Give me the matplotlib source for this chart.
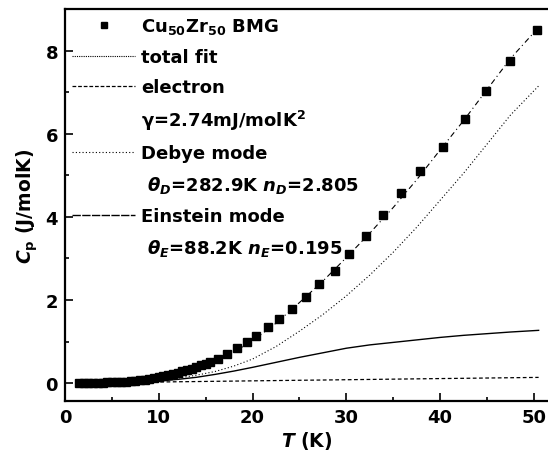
import matplotlib
matplotlib.use("Agg")
import matplotlib.pyplot as plt
from matplotlib.lines import Line2D
from matplotlib.ticker import MultipleLocator

plt.rcParams['font.family'] = ['DejaVu Sans']
plt.rcParams['font.weight'] = 'bold'
plt.rcParams['axes.labelweight'] = 'bold'
plt.rcParams['mathtext.fontset'] = 'custom'
plt.rcParams['mathtext.rm'] = 'DejaVu Sans:bold'
plt.rcParams['mathtext.it'] = 'DejaVu Sans:bold:italic'
plt.rcParams['mathtext.bf'] = 'DejaVu Sans:bold'
plt.rcParams['mathtext.default'] = 'rm'

# measured points, Cu50Zr50 BMG
T_data = [1.5, 2, 2.5, 3, 3.5, 4, 4.5, 5, 5.5, 6, 6.5, 7, 7.5, 8, 8.5, 9, 9.5,
          10, 10.5, 11, 11.5, 12, 12.5, 13, 13.5, 14, 14.5, 15, 15.5, 16.3,
          17.3, 18.3, 19.4, 20.4, 21.6, 22.8, 24.2, 25.7, 27.1, 28.8, 30.3,
          32.1, 33.9, 35.8, 37.9, 40.3, 42.6, 44.9, 47.5, 50.3]
Cp_data = [0.005, 0.006, 0.008, 0.010, 0.012, 0.015, 0.018, 0.022, 0.027,
           0.032, 0.038, 0.046, 0.055, 0.066, 0.080, 0.095, 0.115, 0.140,
           0.165, 0.190, 0.220, 0.250, 0.280, 0.310, 0.350, 0.390, 0.430,
           0.470, 0.500, 0.580, 0.700, 0.840, 0.980, 1.130, 1.350, 1.540,
           1.780, 2.070, 2.380, 2.690, 3.100, 3.530, 4.040, 4.570, 5.100,
           5.670, 6.350, 7.040, 7.740, 8.490]

# fit curves
T_fit = [1.5, 5, 8, 10, 12, 14, 16, 18, 20, 22.5, 25, 27.5, 30, 32.5, 35,
         37.5, 40, 42.5, 45, 47.5, 50.5]
total_fit = [0.004, 0.023, 0.075, 0.147, 0.243, 0.368, 0.534, 0.749, 1.015,
             1.442, 1.939, 2.455, 3.022, 3.609, 4.226, 4.893, 5.610, 6.316,
             7.063, 7.810, 8.558]
electron = [0.004, 0.014, 0.022, 0.027, 0.033, 0.038, 0.044, 0.049, 0.055,
            0.062, 0.069, 0.075, 0.082, 0.089, 0.096, 0.103, 0.110, 0.116,
            0.123, 0.130, 0.138]
debye = [0.0002, 0.009, 0.037, 0.07, 0.12, 0.19, 0.28, 0.41, 0.58, 0.88,
         1.25, 1.65, 2.10, 2.60, 3.15, 3.75, 4.40, 5.05, 5.75, 6.45, 7.15]
einstein = [0.0, 0.0001, 0.015, 0.05, 0.09, 0.14, 0.21, 0.29, 0.38, 0.50,
            0.62, 0.73, 0.84, 0.92, 0.98, 1.04, 1.10, 1.15, 1.19, 1.23, 1.27]

fig = plt.figure(figsize=(5.48, 4.56), dpi=100)
ax = fig.add_axes([0.1186, 0.1184, 0.8814, 0.8596])

ax.plot(T_fit, total_fit, color='black', lw=0.8, ls=(0, (5, 3, 1, 3)))
ax.plot(T_fit, electron, color='black', lw=0.9, ls=(0, (3, 2)))
ax.plot(T_fit, debye, color='black', lw=0.8, ls=(0, (1, 2)))
ax.plot(T_fit, einstein, color='black', lw=1.0, ls='-')
ax.plot(T_data, Cp_data, 's', color='black', ms=6.3, zorder=5)

ax.set_xlim(0, 51.5)
ax.set_ylim(-0.43, 9.0)
ax.xaxis.set_major_locator(MultipleLocator(10))
ax.xaxis.set_minor_locator(MultipleLocator(5))
ax.yaxis.set_major_locator(MultipleLocator(2))
ax.yaxis.set_minor_locator(MultipleLocator(1))
ax.tick_params(which='both', direction='in', width=1.2, labelsize=13)
ax.tick_params(which='major', length=6, pad=5)
ax.tick_params(which='minor', length=3)
for lbl in ax.get_xticklabels() + ax.get_yticklabels():
    lbl.set_fontweight('bold')
ax.spines['right'].set_visible(False)
for s in ['left', 'bottom', 'top']:
    ax.spines[s].set_linewidth(1.6)

ax.set_xlabel('$\\mathit{T}$ (K)', fontsize=13.5, fontweight='bold', labelpad=2)
ax.set_ylabel('$\\mathit{C}_{\\mathrm{p}}$ (J/molK)', fontsize=13.5,
              fontweight='bold', labelpad=4)

blank = Line2D([], [], ls='none')
handles = [
    Line2D([], [], marker='s', ls='none', color='black', ms=5),
    Line2D([], [], color='black', lw=0.8, ls=(0, (1, 1))),
    Line2D([], [], color='black', lw=0.9, ls=(0, (3, 1.5))),
    blank,
    Line2D([], [], color='black', lw=0.8, ls=(0, (1, 2))),
    blank,
    Line2D([], [], color='black', lw=1.0, ls=(0, (6, 1))),
    blank,
]
labels = [
    'Cu$_{50}$Zr$_{50}$ BMG',
    'total fit',
    'electron',
    '$\\gamma$=2.74mJ/molK$^{2}$',
    'Debye mode',
    ' $\\mathit{\\theta}_{\\mathit{D}}$=282.9K $\\mathit{n}_{\\mathit{D}}$=2.805',
    'Einstein mode',
    ' $\\mathit{\\theta}_{\\mathit{E}}$=88.2K $\\mathit{n}_{\\mathit{E}}$=0.195',
]
ax.legend(handles, labels, loc='upper left', frameon=False, fontsize=13,
          handlelength=3.5, handletextpad=0.3, labelspacing=0.66,
          borderaxespad=0.0, bbox_to_anchor=(0.0, 1.0))

fig.savefig('out.png', dpi=100)
